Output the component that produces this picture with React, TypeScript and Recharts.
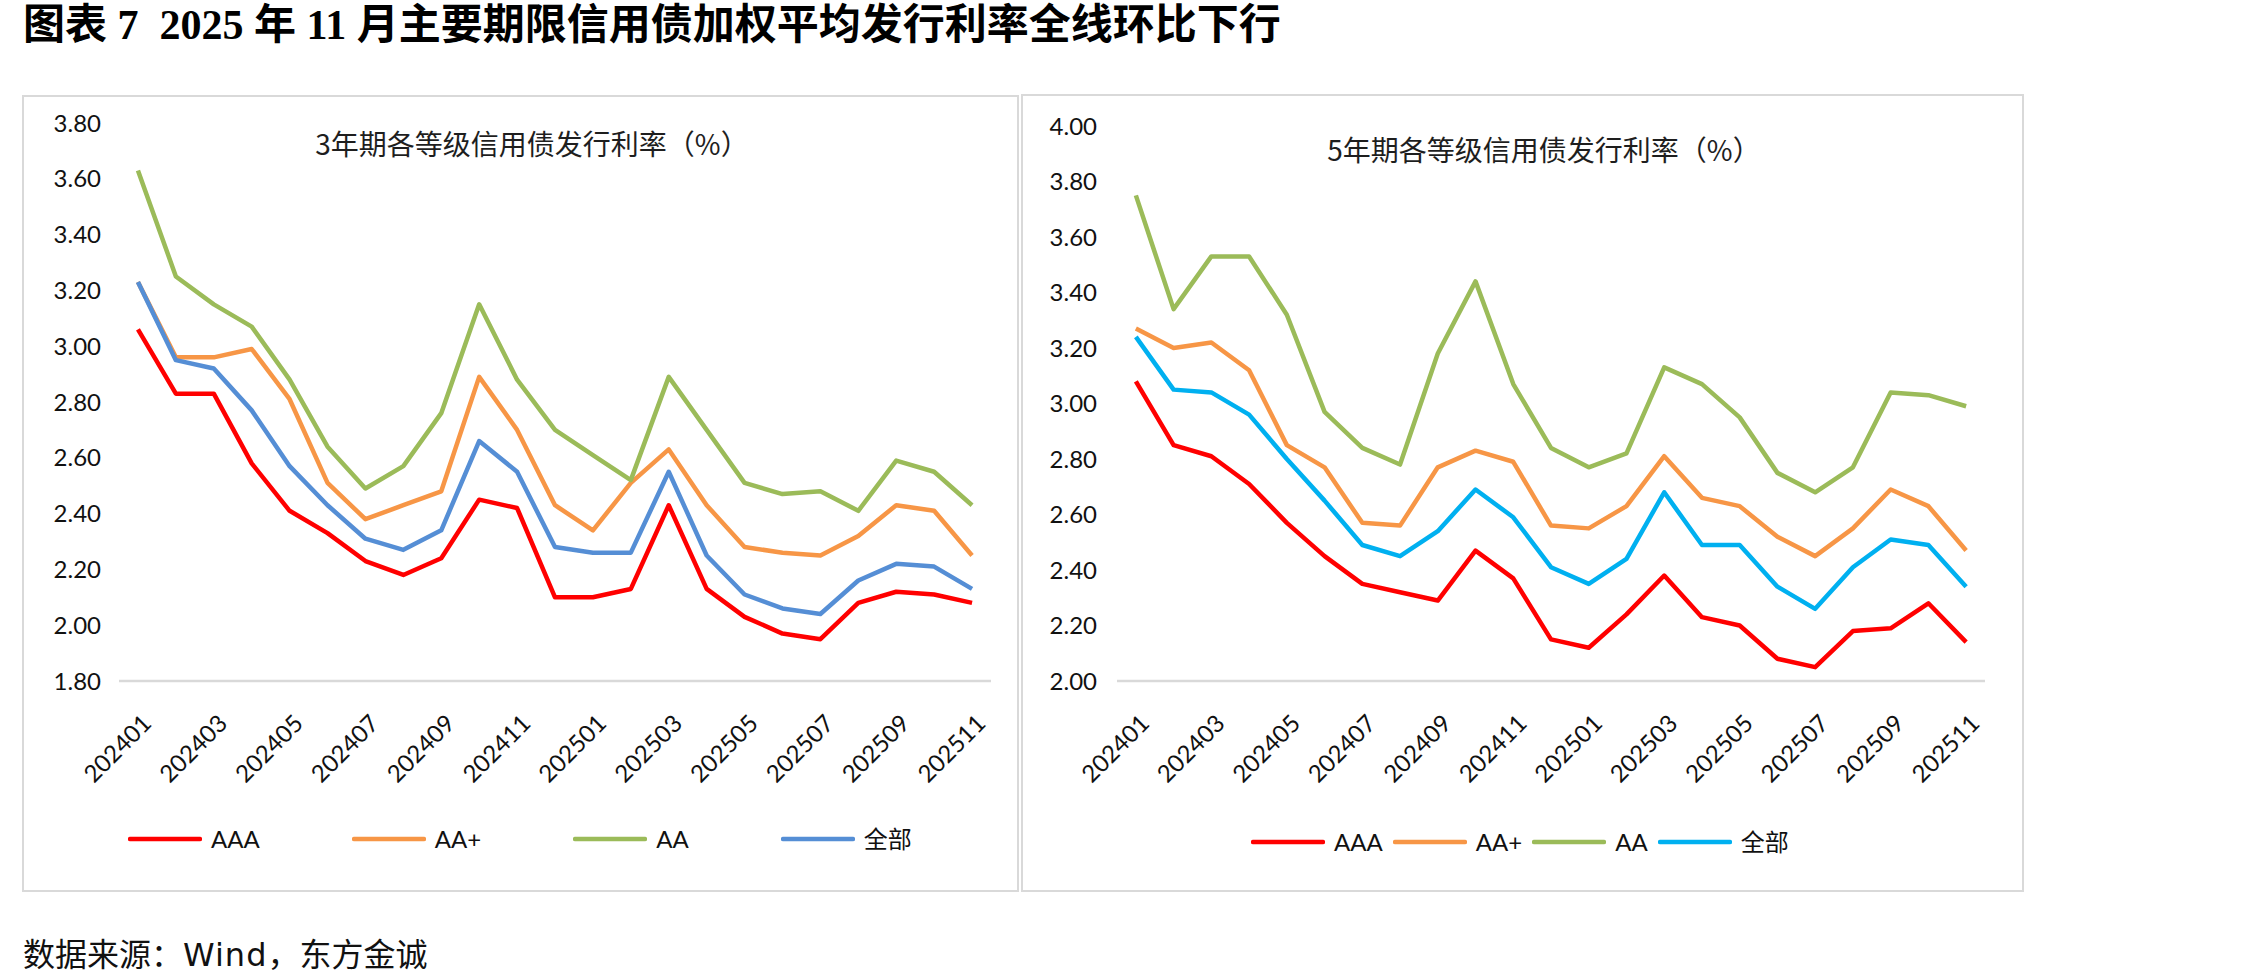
import { Legend, Line, LineChart, XAxis, YAxis } from "recharts";

// Monthly issuance rates of credit bonds by rating, Jan 2024 - Nov 2025 (%)
const months = [
  "202401", "202402", "202403", "202404", "202405", "202406", "202407", "202408",
  "202409", "202410", "202411", "202412", "202501", "202502", "202503", "202504",
  "202505", "202506", "202507", "202508", "202509", "202510", "202511",
];

// 3-year tenor
const y3AAA = [3.06, 2.83, 2.83, 2.58, 2.41, 2.33, 2.23, 2.18, 2.24, 2.45, 2.42, 2.10, 2.10, 2.13, 2.43, 2.13, 2.03, 1.97, 1.95, 2.08, 2.12, 2.11, 2.08];
const y3AAPlus = [3.23, 2.96, 2.96, 2.99, 2.81, 2.51, 2.38, 2.43, 2.48, 2.89, 2.70, 2.43, 2.34, 2.51, 2.63, 2.43, 2.28, 2.26, 2.25, 2.32, 2.43, 2.41, 2.25];
const y3AA = [3.63, 3.25, 3.15, 3.07, 2.88, 2.64, 2.49, 2.57, 2.76, 3.15, 2.88, 2.70, 2.61, 2.52, 2.89, 2.70, 2.51, 2.47, 2.48, 2.41, 2.59, 2.55, 2.43];
const y3All = [3.23, 2.95, 2.92, 2.77, 2.57, 2.43, 2.31, 2.27, 2.34, 2.66, 2.55, 2.28, 2.26, 2.26, 2.55, 2.25, 2.11, 2.06, 2.04, 2.16, 2.22, 2.21, 2.13];

// 5-year tenor
const y5AAA = [3.08, 2.85, 2.81, 2.71, 2.57, 2.45, 2.35, 2.32, 2.29, 2.47, 2.37, 2.15, 2.12, 2.24, 2.38, 2.23, 2.20, 2.08, 2.05, 2.18, 2.19, 2.28, 2.14];
const y5AAPlus = [3.27, 3.20, 3.22, 3.12, 2.85, 2.77, 2.57, 2.56, 2.77, 2.83, 2.79, 2.56, 2.55, 2.63, 2.81, 2.66, 2.63, 2.52, 2.45, 2.55, 2.69, 2.63, 2.47];
const y5AA = [3.75, 3.34, 3.53, 3.53, 3.32, 2.97, 2.84, 2.78, 3.18, 3.44, 3.07, 2.84, 2.77, 2.82, 3.13, 3.07, 2.95, 2.75, 2.68, 2.77, 3.04, 3.03, 2.99];
const y5All = [3.24, 3.05, 3.04, 2.96, 2.80, 2.65, 2.49, 2.45, 2.54, 2.69, 2.59, 2.41, 2.35, 2.44, 2.68, 2.49, 2.49, 2.34, 2.26, 2.41, 2.51, 2.49, 2.34];

const y3Ticks = [1.8, 2.0, 2.2, 2.4, 2.6, 2.8, 3.0, 3.2, 3.4, 3.6, 3.8];
const y5Ticks = [2.0, 2.2, 2.4, 2.6, 2.8, 3.0, 3.2, 3.4, 3.6, 3.8, 4.0];

const seriesNames = ["AAA", "AA+", "AA", "全部"];

const LATIN = "Lato, 'Noto Sans CJK SC', sans-serif";
const CJK = "'Noto Sans CJK SC', sans-serif";

type Row = Record<string, string | number>;

function buildRows(columns: number[][]): Row[] {
  return months.map((m, i) => {
    const row: Row = { month: m };
    seriesNames.forEach((name, s) => {
      row[name] = columns[s][i];
    });
    return row;
  });
}

const rows3y = buildRows([y3AAA, y3AAPlus, y3AA, y3All]);
const rows5y = buildRows([y5AAA, y5AAPlus, y5AA, y5All]);

const MonthTick = (props: any) => {
  const { x, y, payload } = props;
  const ex = x + 15;
  const ey = y + 44;
  return (
    <text
      x={ex}
      y={ey}
      transform={`rotate(-45 ${ex} ${ey})`}
      textAnchor="end"
      fontSize={24}
      fontFamily={LATIN}
      fill="#111"
    >
      {payload.value}
    </text>
  );
};

// legend keeps the series order instead of the library's alphabetical sort
function LegendRow({ payload, gap }: { payload?: any[]; gap: number }) {
  const items = [...(payload ?? [])].sort(
    (a, b) => seriesNames.indexOf(a.value) - seriesNames.indexOf(b.value)
  );
  return (
    <div style={{ display: "flex", alignItems: "center", height: 28, gap, whiteSpace: "nowrap" }}>
      {items.map((item) => (
        <div key={item.value} style={{ display: "flex", alignItems: "center" }}>
          <svg width={74} height={10}>
            <line x1={2} x2={72} y1={5} y2={5} stroke={item.color} strokeWidth={4.5} strokeLinecap="round" />
          </svg>
          <span style={{ marginLeft: 9, fontSize: 24, fontFamily: LATIN, color: "#111", lineHeight: "28px" }}>
            {item.value}
          </span>
        </div>
      ))}
    </div>
  );
}

interface PanelProps {
  title: string;
  titleX: number;
  titleY: number;
  rows: Row[];
  colors: string[];
  ticks: number[];
  left: number;
  top: number;
  width: number;
  height: number;
  margin: { top: number; right: number; bottom: number; left: number };
  labelGap: number;
  legendLeft: number;
  legendTop: number;
  legendGap: number;
}

function RatePanel(p: PanelProps) {
  const plotWidth = p.width - p.margin.left - 80 - p.margin.right;
  const halfBand = plotWidth / months.length / 2;
  return (
    <>
      <div
        style={{
          position: "absolute",
          left: p.left,
          top: p.top,
          width: p.width,
          height: p.height,
          border: "2px solid #D9D9D9",
          boxSizing: "border-box",
        }}
      />
      <div style={{ position: "absolute", left: p.left, top: p.top }}>
        <LineChart width={p.width} height={p.height} data={p.rows} margin={p.margin}>
          <XAxis
            dataKey="month"
            interval={1}
            tickLine={false}
            tickSize={0}
            tickMargin={0}
            height={150}
            padding={{ left: halfBand, right: halfBand }}
            axisLine={{ stroke: "#D9D9D9", strokeWidth: 2.5 }}
            tick={<MonthTick />}
          />
          <YAxis
            width={80}
            domain={[p.ticks[0], p.ticks[p.ticks.length - 1]]}
            ticks={p.ticks}
            interval={0}
            axisLine={false}
            tickLine={false}
            tickSize={6}
            tickMargin={p.labelGap - 6}
            tickFormatter={(v: number) => v.toFixed(2)}
            tick={{ fontSize: 24, fontFamily: LATIN, fill: "#111" }}
          />
          <Legend
            layout="horizontal"
            verticalAlign="middle"
            align="center"
            wrapperStyle={{ left: p.legendLeft, top: p.legendTop, width: "auto" }}
            content={(props: any) => <LegendRow payload={props.payload} gap={p.legendGap} />}
          />
          {seriesNames.map((name, i) => (
            <Line
              key={name}
              type="linear"
              dataKey={name}
              name={name}
              stroke={p.colors[i]}
              strokeWidth={4.5}
              strokeLinejoin="round"
              dot={false}
              activeDot={false}
              isAnimationActive={false}
            />
          ))}
        </LineChart>
      </div>
      <div
        style={{
          position: "absolute",
          left: p.left + p.titleX - 300,
          top: p.top + p.titleY - 20,
          width: 600,
          textAlign: "center",
          fontFamily: CJK,
          fontSize: 28,
          lineHeight: "40px",
          color: "#1e1e1e",
          whiteSpace: "nowrap",
        }}
      >
        {p.title}
      </div>
    </>
  );
}

export default function App() {
  return (
    <div
      style={{
        position: "absolute",
        left: 0,
        top: 0,
        width: 2244,
        height: 980,
        background: "#fff",
        overflow: "hidden",
      }}
    >
      <div
        style={{
          position: "absolute",
          left: 23,
          top: 3,
          fontFamily: "'Liberation Serif', 'Noto Sans CJK SC', serif",
          fontWeight: 700,
          fontSize: 42,
          lineHeight: "44px",
          color: "#000",
          whiteSpace: "pre",
        }}
      >
        {"图表 7  2025 年 11 月主要期限信用债加权平均发行利率全线环比下行"}
      </div>

      <RatePanel
        title="3年期各等级信用债发行利率（%）"
        titleX={510}
        titleY={48}
        rows={rows3y}
        colors={["#FF0000", "#F79646", "#9BBB59", "#558ED5"]}
        ticks={y3Ticks}
        left={22}
        top={95}
        width={997}
        height={797}
        margin={{ top: 28, right: 28, bottom: 61, left: 17 }}
        labelGap={18}
        legendLeft={106}
        legendTop={730}
        legendGap={92}
      />
      <RatePanel
        title="5年期各等级信用债发行利率（%）"
        titleX={523}
        titleY={55}
        rows={rows5y}
        colors={["#FF0000", "#F79646", "#9BBB59", "#00B0F0"]}
        ticks={y5Ticks}
        left={1021}
        top={94}
        width={1003}
        height={798}
        margin={{ top: 32, right: 39, bottom: 61, left: 16 }}
        labelGap={20}
        legendLeft={230}
        legendTop={734}
        legendGap={10}
      />

      <div
        style={{
          position: "absolute",
          left: 23,
          top: 932,
          fontFamily: CJK,
          fontSize: 32,
          lineHeight: "40px",
          color: "#111",
          whiteSpace: "nowrap",
        }}
      >
        数据来源：<span style={{ fontFamily: "'DejaVu Sans', sans-serif", letterSpacing: 1 }}>Wind</span>，东方金诚
      </div>
    </div>
  );
}
